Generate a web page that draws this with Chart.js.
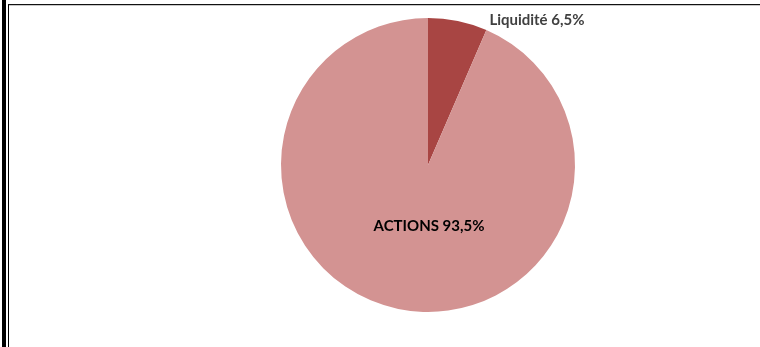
<!DOCTYPE html>
<html>
<head>
<meta charset="utf-8">
<script src="https://cdn.jsdelivr.net/npm/chart.js@4"></script>
<style>
  html, body { margin: 0; padding: 0; background: #fff; }
  #wrap { position: relative; width: 760px; height: 347px; overflow: hidden; }
  #c { position: absolute; left: 0; top: 0; }
  .bar { position: absolute; left: 2px; top: 0; width: 4px; height: 347px; background: #000; }
  .vline { position: absolute; left: 8px; top: 4px; width: 1px; height: 343px; background: #000; }
  .hline { position: absolute; left: 8px; top: 4px; width: 752px; height: 1px; background: #111; }
  .hline2 { position: absolute; left: 9px; top: 5px; width: 751px; height: 1px; background: #c8c8c8; }
</style>
</head>
<body>
<div id="wrap">
  <canvas id="c" width="760" height="347"></canvas>
  <div class="bar"></div>
  <div class="vline"></div>
  <div class="hline"></div>
  <div class="hline2"></div>
</div>
<script>
const categories = ["Liquidité", "ACTIONS"];
const values = [6.5, 93.5];
const colors = ["#A84543", "#D39392"];
const labelColors = ["#404040", "#000000"];

function fmt(v) { return v.toFixed(1).replace(".", ",") + "%"; }

const labelPlugin = {
  id: "sliceLabels",
  afterDatasetsDraw(chart) {
    const ctx = chart.ctx;
    const meta = chart.getDatasetMeta(0);
    ctx.save();
    ctx.font = "bold 15px Lato, 'Open Sans', sans-serif";
    meta.data.forEach((arc, i) => {
      const txt = categories[i] + " " + fmt(values[i]);
      ctx.fillStyle = labelColors[i];
      const r = arc.outerRadius;
      if (i === 0) {
        const a = arc.endAngle;
        const x = arc.x + Math.cos(a) * r + 3;
        const y = arc.y + Math.sin(a) * r - 10;
        ctx.textAlign = "left";
        ctx.textBaseline = "middle";
        ctx.fillText(txt, x, y);
      } else {
        ctx.textAlign = "center";
        ctx.textBaseline = "middle";
        ctx.fillText(txt, arc.x + 1, arc.y + r * 0.415);
      }
    });
    ctx.restore();
  }
};

new Chart(document.getElementById("c"), {
  type: "pie",
  data: {
    labels: categories,
    datasets: [{
      data: values,
      backgroundColor: colors,
      borderWidth: 0
    }]
  },
  options: {
    responsive: false,
    animation: false,
    layout: { padding: { top: 18, bottom: 35, left: 281, right: 185 } },
    plugins: {
      legend: { display: false },
      tooltip: { enabled: false }
    }
  },
  plugins: [labelPlugin]
});
</script>
</body>
</html>
